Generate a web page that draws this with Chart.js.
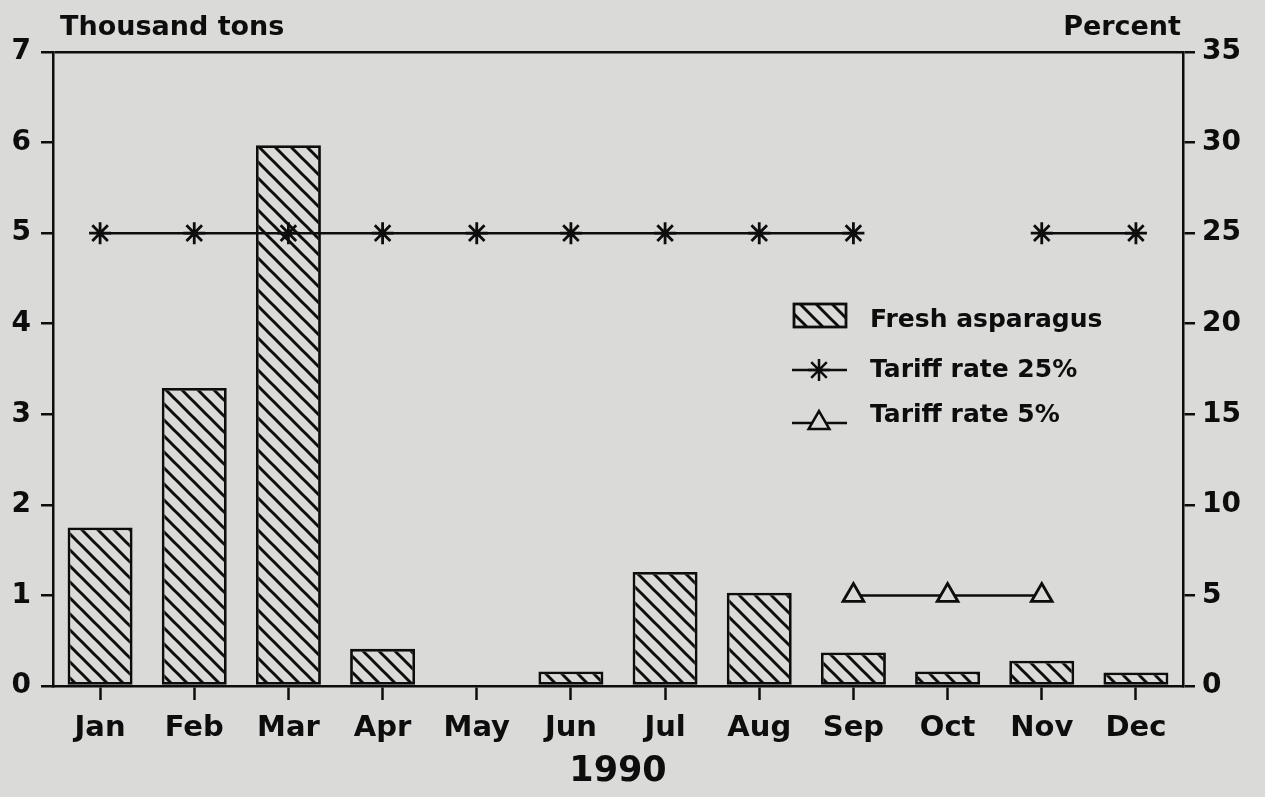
<!DOCTYPE html>
<html>
<head>
  <meta charset="UTF-8">
  <title>Fresh asparagus, 1990</title>
  <script src="https://cdn.jsdelivr.net/npm/chart.js"></script>
  <style>
    html, body {
      margin: 0;
      padding: 0;
      background: #dadad8;
    }
    #wrap {
      width: 1265px;
      height: 797px;
    }
  </style>
</head>
<body>
<div id="wrap"><canvas id="chart" width="1265" height="797"></canvas></div>

<script>
  // data
  const months = ['Jan', 'Feb', 'Mar', 'Apr', 'May', 'Jun', 'Jul', 'Aug', 'Sep', 'Oct', 'Nov', 'Dec'];
  const asparagus = [1.75, 3.29, 5.97, 0.41, 0, 0.16, 1.26, 1.03, 0.37, 0.16, 0.28, 0.15];
  const tariff25 = [25, 25, 25, 25, 25, 25, 25, 25, 25, null, 25, 25];
  const tariff5 = [null, null, null, null, null, null, null, null, 5, 5, 5, null];
  const leftMax = 7;
  const rightMax = 35;

  const BG = '#dadad8';
  const INK = '#0d0d0d';
  const FONT = '"DejaVu Sans", sans-serif';

  // diagonal hatch for the bars
  function makeHatch() {
    const size = 16;
    const c = document.createElement('canvas');
    c.width = size;
    c.height = size;
    const g = c.getContext('2d');
    g.fillStyle = BG;
    g.fillRect(0, 0, size, size);
    g.strokeStyle = INK;
    g.lineWidth = 3;
    [-size, 0, size].forEach(function (dx) {
      g.beginPath();
      g.moveTo(dx - 1, -1);
      g.lineTo(dx + size + 1, size + 1);
      g.stroke();
    });
    return g.createPattern(c, 'repeat');
  }
  const hatch = makeHatch();

  // background + axis titles
  const bgPlugin = {
    id: 'bg',
    beforeDraw(chart) {
      const ctx = chart.ctx;
      ctx.save();
      ctx.fillStyle = BG;
      ctx.fillRect(0, 0, chart.width, chart.height);
      ctx.restore();
    },
    afterDraw(chart) {
      const ctx = chart.ctx;
      ctx.save();
      ctx.fillStyle = INK;
      ctx.font = 'bold 27px ' + FONT;
      ctx.textBaseline = 'alphabetic';
      ctx.textAlign = 'left';
      ctx.fillText('Thousand tons', 60, 35);
      ctx.textAlign = 'right';
      ctx.fillText('Percent', 1181, 35);
      ctx.restore();
    }
  };

  // legend inside the plot
  const legendPlugin = {
    id: 'boxLegend',
    afterDraw(chart) {
      const ctx = chart.ctx;
      const ds = chart.data.datasets;
      ctx.save();
      ctx.lineWidth = 2.8;
      ctx.strokeStyle = INK;

      // bars
      ctx.fillStyle = hatch;
      ctx.fillRect(794, 304, 52, 23);
      ctx.strokeRect(794, 304, 52, 23);

      // lines with markers
      const rows = [{d: ds[1], y: 370}, {d: ds[2], y: 423}];
      rows.forEach(function (r) {
        ctx.lineWidth = 2.5;
        ctx.beginPath();
        ctx.moveTo(792, r.y);
        ctx.lineTo(847, r.y);
        ctx.stroke();
        ctx.fillStyle = BG;
        Chart.helpers.drawPoint(ctx, {
          pointStyle: r.d.pointStyle,
          radius: r.d.pointRadius,
          borderWidth: r.d.pointBorderWidth,
          rotation: 0
        }, 819, r.y);
      });

      ctx.fillStyle = INK;
      ctx.font = 'bold 25px ' + FONT;
      ctx.textAlign = 'left';
      ctx.textBaseline = 'middle';
      ctx.fillText(ds[0].label, 870, 320);
      ctx.fillText(ds[1].label, 870, 370);
      ctx.fillText(ds[2].label, 870, 415);
      ctx.restore();
    }
  };

  new Chart(document.getElementById('chart').getContext('2d'), {
    data: {
      labels: months,
      datasets: [
        {
          type: 'bar',
          label: 'Fresh asparagus',
          data: asparagus,
          yAxisID: 'y',
          backgroundColor: hatch,
          borderColor: INK,
          borderWidth: 2.8,
          borderSkipped: false,
          barPercentage: 0.69,
          categoryPercentage: 1,
          order: 3
        },
        {
          type: 'line',
          label: 'Tariff rate 25%',
          data: tariff25,
          yAxisID: 'y1',
          borderColor: INK,
          borderWidth: 2.5,
          pointStyle: 'star',
          pointRadius: 11,
          pointBorderWidth: 2.8,
          pointBorderColor: INK,
          pointBackgroundColor: BG,
          spanGaps: false,
          fill: false,
          tension: 0,
          order: 1
        },
        {
          type: 'line',
          label: 'Tariff rate 5%',
          data: tariff5,
          yAxisID: 'y1',
          borderColor: INK,
          borderWidth: 2.5,
          pointStyle: 'triangle',
          pointRadius: 12,
          pointBorderWidth: 2.8,
          pointBorderColor: INK,
          pointBackgroundColor: BG,
          spanGaps: false,
          fill: false,
          tension: 0,
          order: 2
        }
      ]
    },
    options: {
      responsive: false,
      animation: false,
      devicePixelRatio: 1,
      layout: {padding: {top: 52, left: 0, right: 0, bottom: 0}},
      plugins: {
        legend: {display: false},
        tooltip: {enabled: false}
      },
      scales: {
        x: {
          type: 'category',
          offset: true,
          grid: {
            offset: false,
            drawOnChartArea: false,
            drawTicks: true,
            tickLength: 14,
            tickWidth: 2.5,
            tickColor: INK
          },
          border: {display: true, color: INK, width: 2.5},
          ticks: {
            color: INK,
            font: {family: FONT, size: 29, weight: 'bold'},
            padding: 11,
            maxRotation: 0,
            autoSkip: false
          },
          title: {
            display: true,
            text: '1990',
            color: INK,
            font: {family: FONT, size: 35, weight: 'bold'},
            padding: {top: 0, bottom: 4}
          },
          afterFit(s) { s.height = 111; }
        },
        y: {
          position: 'left',
          min: 0,
          max: leftMax,
          grid: {
            drawOnChartArea: true,
            drawTicks: true,
            tickLength: 12,
            lineWidth: 2.5,
            tickColor: INK,
            color: function (c) { return c.tick && c.tick.value === leftMax ? INK : 'rgba(0,0,0,0)'; }
          },
          border: {display: true, color: INK, width: 2.5},
          ticks: {
            stepSize: 1,
            color: INK,
            font: {family: FONT, size: 28, weight: 'bold'},
            padding: 10
          },
          afterFit(s) { s.width = 53; }
        },
        y1: {
          position: 'right',
          min: 0,
          max: rightMax,
          grid: {
            drawOnChartArea: false,
            drawTicks: true,
            tickLength: 12,
            lineWidth: 2.5,
            tickColor: INK
          },
          border: {display: true, color: INK, width: 2.5},
          ticks: {
            stepSize: 5,
            color: INK,
            font: {family: FONT, size: 28, weight: 'bold'},
            padding: 7
          },
          afterFit(s) { s.width = 82; }
        }
      }
    },
    plugins: [bgPlugin, legendPlugin]
  });
</script>
</body>
</html>
